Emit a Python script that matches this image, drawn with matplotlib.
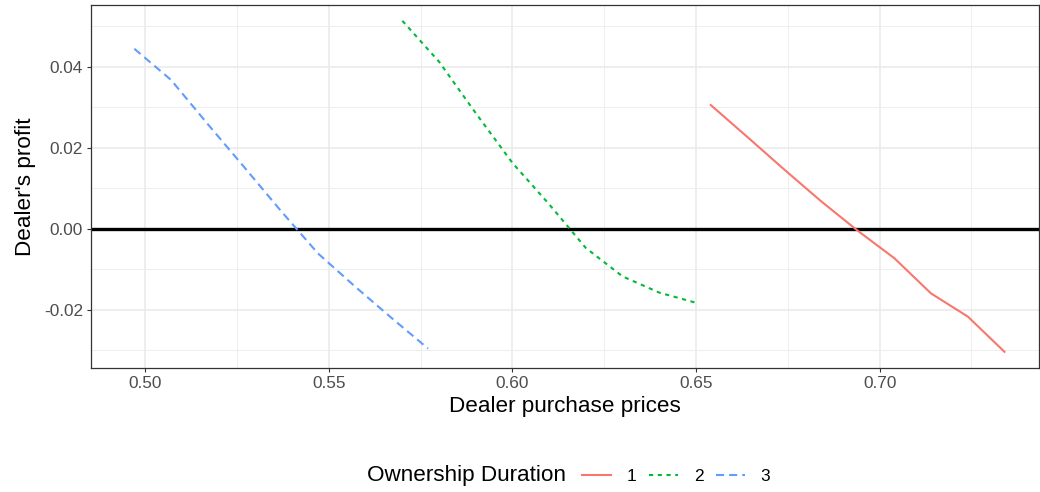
import matplotlib
matplotlib.use("Agg")
import matplotlib.pyplot as plt
from matplotlib.ticker import FixedLocator

plt.rcParams['font.family'] = ['Liberation Sans', 'DejaVu Sans']
plt.rcParams['axes.unicode_minus'] = False

# Data
price_1 = [0.654, 0.664, 0.674, 0.684, 0.694, 0.704, 0.714, 0.724, 0.734]
profit_1 = [0.0305, 0.0226, 0.0146, 0.0068, -0.0005, -0.0073, -0.0160, -0.0217, -0.0304]
price_2 = [0.570, 0.580, 0.590, 0.600, 0.610, 0.620, 0.630, 0.640, 0.650]
profit_2 = [0.0513, 0.0412, 0.0285, 0.0162, 0.0060, -0.0048, -0.0118, -0.0158, -0.0183]
price_3 = [0.497, 0.507, 0.517, 0.527, 0.537, 0.547, 0.557, 0.567, 0.577]
profit_3 = [0.0444, 0.0367, 0.0258, 0.0151, 0.0043, -0.0061, -0.0142, -0.0220, -0.0296]

labels = ["1", "2", "3"]
colors = ["#F8766D", "#00BA38", "#619CFF"]
styles = ["-", (0, (2.0, 2.2)), (0, (3.9, 2.4))]
x_ticks = [0.50, 0.55, 0.60, 0.65, 0.70]
y_ticks = [-0.02, 0.00, 0.02, 0.04]

fig = plt.figure(figsize=(10.4, 4.92), dpi=100)
ax = fig.add_axes([91/1040, 1-368/492, (1039-91)/1040, (368-5)/492])

series = [(price_1, profit_1), (price_2, profit_2), (price_3, profit_3)]
handles = []
for (xs, ys), lab, c, ls in zip(series, labels, colors, styles):
    h, = ax.plot(xs, ys, color=c, linestyle=ls, linewidth=1.5, label=lab, zorder=3)
    handles.append(h)

ax.axhline(0, color="black", linewidth=2.4, zorder=2)

ax.set_xlim(0.4852, 0.7434)
ax.set_ylim(-0.0344, 0.0552)
ax.xaxis.set_major_locator(FixedLocator(x_ticks))
ax.yaxis.set_major_locator(FixedLocator(y_ticks))
ax.xaxis.set_minor_locator(FixedLocator([0.475, 0.525, 0.575, 0.625, 0.675, 0.725]))
ax.yaxis.set_minor_locator(FixedLocator([-0.03, -0.01, 0.01, 0.03, 0.05]))
ax.set_xticklabels([f"{v:.2f}" for v in x_ticks])
ax.set_yticklabels([f"{v:.2f}" for v in y_ticks])

ax.grid(which="major", color="#EBEBEB", linewidth=1.2, zorder=0)
ax.grid(which="minor", color="#EBEBEB", linewidth=0.6, zorder=0)
ax.set_axisbelow(True)

for s in ax.spines.values():
    s.set_color("#333333")
    s.set_linewidth(0.9)

ax.tick_params(which="major", length=3.2, width=0.8, color="#333333",
               labelsize=12.4, labelcolor="#4D4D4D", pad=2.5)
ax.tick_params(which="minor", length=0)

ax.set_xlabel("Dealer purchase prices", fontsize=16.2, color="black", labelpad=4)
ax.set_ylabel("Dealer's profit", fontsize=16.2, color="black", labelpad=6)

# Legend at bottom, title to the left
fig.text(367/1040, 1-476/492, "Ownership Duration", fontsize=16.2,
         ha="left", va="center", color="black")
leg = fig.legend(handles=handles, labels=labels, loc="center left",
                 bbox_to_anchor=(582/1040, 1-476/492), ncol=3, frameon=False,
                 fontsize=12.4, handlelength=1.7, handletextpad=0.9,
                 columnspacing=0.72, borderaxespad=0, borderpad=0)

fig.savefig("out.png", dpi=100)
